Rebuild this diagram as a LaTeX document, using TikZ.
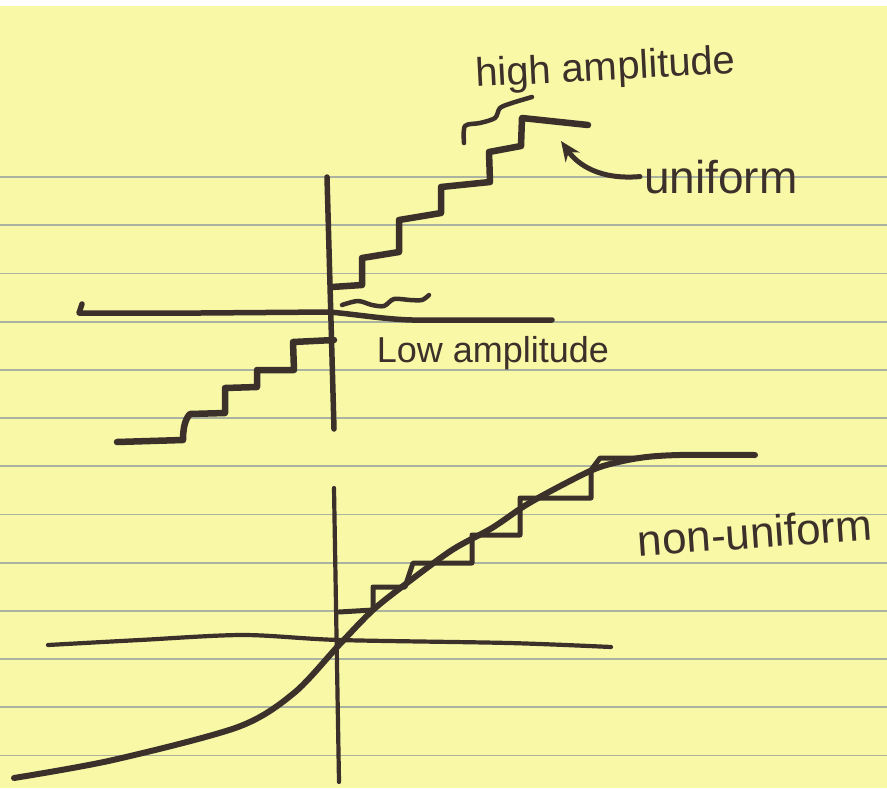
\documentclass[tikz,border=0pt]{standalone}
\usepackage{fontspec}
\setmainfont{Liberation Sans}
\usetikzlibrary{arrows.meta}
\definecolor{paper}{HTML}{F9F8A6}
\definecolor{rule}{HTML}{A9B3A0}
\definecolor{inkcol}{HTML}{3B302A}
\tikzset{
  pen/.style={draw=inkcol, line cap=round, line join=round},
  axis/.style={pen, line width=5.5pt},
  thinaxis/.style={pen, line width=4.2pt},
  stair/.style={pen, line width=6.5pt},
  curvestyle/.style={pen, line width=6pt},
  thinstair/.style={pen, line width=5pt},
  squig/.style={pen, line width=4.5pt},
  hand/.style={text=inkcol, inner sep=4pt},
}
\begin{document}
\begin{tikzpicture}[x=1pt, y=-1pt]
\useasboundingbox (0,0) rectangle (887,788);
\fill[white] (0,0) rectangle (887,788);
\fill[paper] (0,6) rectangle (887,788);
\foreach \k in {0,...,12} {
  \draw[rule, line width=1.8pt] (0,{177+48.2*\k}) -- (887,{177+48.2*\k});
}
% ---- top diagram ----
\draw[axis] (327,177) -- (334,429);
\draw[axis] (82,304) -- (79,313) -- (200,313) -- (330,312) .. controls (370,316) and (395,321) .. (430,320) -- (552,320);
\draw[stair] (332,287) -- (362,285) -- (362,258) -- (399,252) -- (399,220) -- (441,213) -- (441,187) -- (490,182) -- (489,152) -- (521,146) -- (522,118) -- (588,125);
\draw[stair] (334,340) -- (293,342) -- (294,370) -- (257,370) -- (257,387) -- (225,388) -- (225,413) -- (190,414) .. controls (184,420) and (183,432) .. (183,440) -- (117,442);
\draw[squig] plot[smooth] coordinates {(342,305) (358,301) (372,305) (384,306) (394,299) (410,300) (422,300) (429,295)};
\draw[squig] plot[smooth] coordinates {(464,143) (465,126) (480,123) (495,118) (500,108) (512,103) (532,97)};
\node[hand, font=\fontsize{40}{40}\selectfont, anchor=base, rotate=3] (high) at (606,80) {high amplitude};
\node[hand, font=\fontsize{46}{46}\selectfont, anchor=base west] (uniform) at (640,193) {uniform};
\coordinate (tip) at (561,141);
\draw[pen, line width=5pt, -{Stealth[length=20pt,width=17pt]}] (uniform.west) .. controls (600,180) and (578,165) .. (tip);
\node[hand, font=\fontsize{36}{36}\selectfont, anchor=base] (low) at (493,362) {Low amplitude};
% ---- bottom diagram ----
\draw[thinaxis] (334,488) -- (339,782);
\draw[thinaxis] plot[smooth] coordinates {(48,645) (140,640) (243,635) (339,640) (509,643) (611,647)};
\draw[curvestyle] plot[smooth] coordinates {(14,778) (113,760) (238,727) (294,693) (339,645) (373,610) (407,583) (452,550) (492,528) (526,505) (566,483) (600,467) (639,458) (679,455) (755,455)};
\draw[thinstair] (339,612) -- (373,610) -- (373,587) -- (405,587) -- (413,563) -- (472,563) -- (472,535) -- (520,535) -- (520,498) -- (591,498) -- (591,470) -- (600,458) -- (640,458);
\node[hand, font=\fontsize{44}{44}\selectfont, anchor=base, rotate=4] (nonuni) at (756,548) {non-uniform};
\end{tikzpicture}
\end{document}
